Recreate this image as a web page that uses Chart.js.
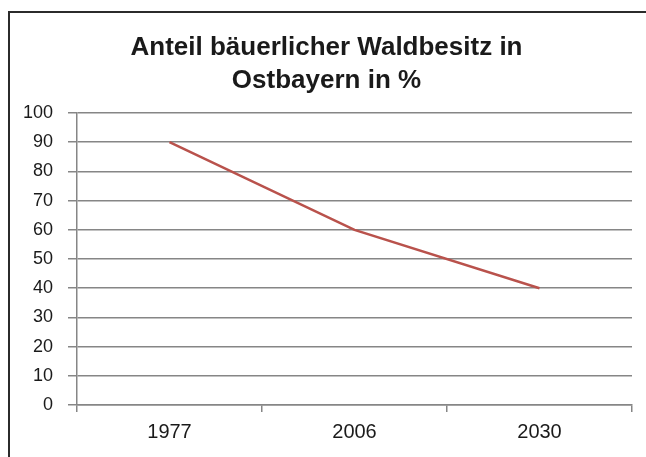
<!DOCTYPE html>
<html>
<head>
<meta charset="utf-8">
<script src="https://cdn.jsdelivr.net/npm/chart.js@4.4.0/dist/chart.umd.min.js"></script>
<style>
  html, body { margin: 0; padding: 0; background: #fff; }
  #wrap { position: relative; width: 646px; height: 457px; }
</style>
</head>
<body>
<div id="wrap"><canvas id="chart"></canvas></div>
<script>
// data
const years = ["1977", "2006", "2030"];
const shares = [90, 60, 40];
const titleLines = ["Anteil bäuerlicher Waldbesitz in", "Ostbayern in %"];

const gridGrey = "#868686";
const textColor = "#1a1a1a";

// frame around the chart (top + left edge, the rest is cut off)
const framePlugin = {
  id: "frame",
  beforeDraw(chart) {
    const ctx = chart.ctx;
    ctx.save();
    ctx.fillStyle = "#fff";
    ctx.fillRect(0, 0, chart.width, chart.height);
    ctx.strokeStyle = "#2b2b2b";
    ctx.lineWidth = 2;
    ctx.beginPath();
    ctx.moveTo(9, chart.height);
    ctx.lineTo(9, 12);
    ctx.lineTo(chart.width, 12);
    ctx.stroke();
    ctx.restore();
  },
};

new Chart(document.getElementById("chart"), {
  type: "line",
  data: {
    labels: years,
    datasets: [
      {
        label: "Anteil",
        data: shares,
        borderColor: "#b9524c",
        borderWidth: 2.5,
        pointRadius: 0,
        tension: 0,
        fill: false,
      },
    ],
  },
  options: {
    responsive: true,
    maintainAspectRatio: false,
    animation: false,
    // left padding nudges the title towards the middle of the frame
    layout: { padding: { left: 21, right: 14, top: 0, bottom: 0 } },
    plugins: {
      legend: { display: false },
      tooltip: { enabled: false },
      title: {
        display: true,
        text: titleLines,
        color: textColor,
        font: { family: "'Liberation Sans', Arial, sans-serif", size: 26, weight: "bold", lineHeight: 1.27 },
        padding: { top: 31, bottom: 16 },
      },
    },
    scales: {
      x: {
        offset: true,
        afterFit: (s) => { s.height = 52; },
        grid: {
          offset: true,
          drawOnChartArea: false,
          color: gridGrey,
          lineWidth: 1.5,
          tickLength: 7,
        },
        border: { color: gridGrey, width: 1.5 },
        ticks: {
          color: textColor,
          padding: 8,
          font: { family: "'Liberation Sans', Arial, sans-serif", size: 20 },
        },
      },
      y: {
        min: 0,
        max: 100,
        afterFit: (s) => { s.width = 56; },
        grid: {
          color: gridGrey,
          lineWidth: 1.5,
          tickLength: 9,
        },
        border: { color: gridGrey, width: 1.5 },
        ticks: {
          stepSize: 10,
          color: textColor,
          padding: 15,
          font: { family: "'Liberation Sans', Arial, sans-serif", size: 18 },
        },
      },
    },
  },
  plugins: [framePlugin],
});
</script>
</body>
</html>
